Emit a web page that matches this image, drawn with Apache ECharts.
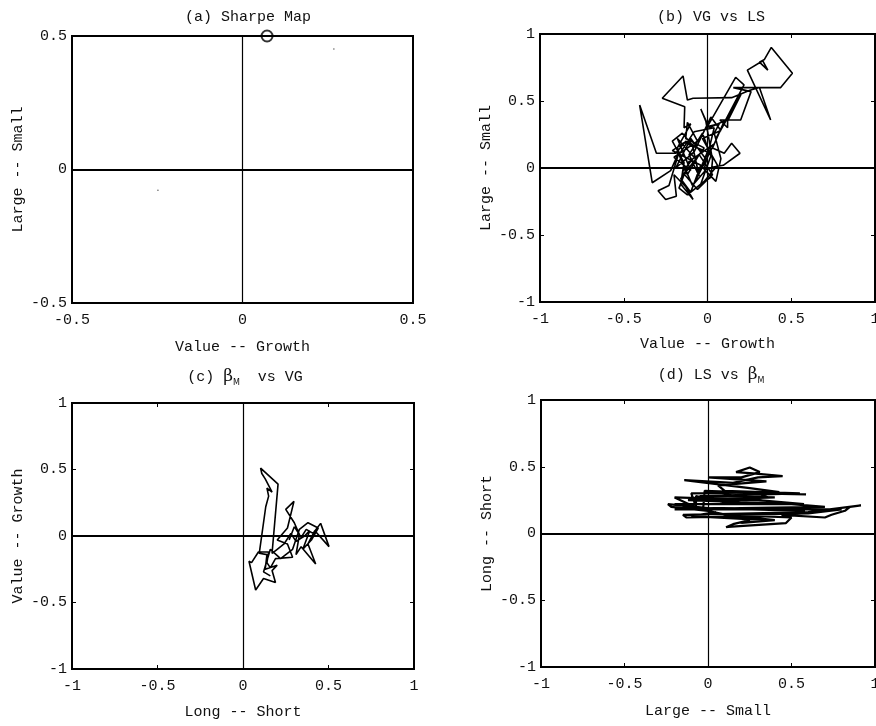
<!DOCTYPE html>
<html>
<head>
<meta charset="utf-8">
<script src="https://cdn.jsdelivr.net/npm/echarts@6/dist/echarts.min.js"></script>
<style>html,body{margin:0;padding:0;background:#fff}#c{width:876px;height:726px}</style>
</head>
<body>
<div id="c"></div>
<script>
// ---- data ----
const rangeA = [-0.5, 0.5];
const rangeB = [-1, 1];
const tickStep = 0.5;

const sharpePoint = [[0.072, 0.5]];
const specks = [[0.268, 0.451], [-0.248, -0.078]];

const vgVsLs = [
 [-0.02,0.12],[-0.13,0.2],[-0.19,0.11],[-0.305,0.11],[-0.405,0.47],[-0.33,-0.11],
 [-0.22,-0.02],[-0.17,0.12],[-0.23,-0.13],[-0.295,-0.17],[-0.25,-0.235],[-0.186,-0.21],
 [-0.2,-0.05],[-0.13,-0.14],[-0.086,-0.235],[-0.16,-0.12],[-0.14,0.04],[-0.21,0.2],
 [-0.15,0.26],[-0.09,0.17],[-0.05,-0.06],[-0.11,0.1],[-0.03,0.26],[0.02,0.09],
 [-0.04,-0.12],[0.02,-0.07],[0.03,0.06],[-0.01,0.35],[-0.04,0.44],[0.01,0.3],
 [0.1,0.35],[0.03,0.15],[0.1,0.11],[0.144,0.184],[0.194,0.11],[0.094,0.02],
 [0.0,0.0],[-0.09,-0.13],[-0.17,0.1],[-0.08,0.27],[0.04,0.3],[-0.02,-0.01],
 [0.05,-0.1],[0.08,0.07],[0.04,0.26],[0.07,0.33],[0.0,0.31],[0.168,0.677],
 [0.218,0.62],[0.05,0.22],[0.2,0.55],[0.12,0.35],[0.12,0.3],[0.074,0.358],[0.198,0.358],[0.26,0.57],
 [0.154,0.6],[0.437,0.6],[0.507,0.707],[0.381,0.9],[0.34,0.81],[0.31,0.79],
 [0.36,0.73],[0.33,0.8],[0.238,0.73],[0.377,0.358],[0.31,0.6],[0.253,0.58],
 [0.144,0.525],[-0.086,0.52],[-0.12,0.507],[-0.146,0.687],[-0.27,0.52],[-0.136,0.457],
 [-0.14,0.3],[-0.1,0.33],[-0.18,0.15],[-0.12,-0.05],[-0.05,0.1],[0.03,-0.05],
 [-0.06,-0.16],[-0.15,-0.03],[-0.08,0.08],
 [-0.18,0.22],[-0.1,-0.02],[-0.2,0.08],[-0.06,0.2],[-0.12,0.34],[-0.13,0.22],
 [-0.02,0.15],[-0.16,-0.08],[-0.1,-0.18],[-0.04,0.02],[-0.21,0.13],[-0.14,0.19],
 [0.0,0.12],[-0.07,-0.09],[0.04,0.18],[-0.11,0.05],[-0.17,-0.15],[-0.12,-0.2],
 [-0.02,-0.1],[0.06,0.02],[-0.03,0.22],[0.08,0.28],[0.02,0.38],[-0.08,0.12],
 [-0.19,0.0],[-0.1,0.22],[0.0,0.05]
];

const bmVsVg = [
 [0.27,-0.03],[0.3,0.07],[0.34,-0.01],[0.37,0.05],[0.41,0.02],[0.454,0.095],
 [0.503,-0.08],[0.42,0.04],[0.38,-0.06],[0.425,-0.21],[0.34,-0.08],[0.31,-0.14],
 [0.33,0.01],[0.3,0.1],[0.25,0.2],[0.298,0.26],[0.26,0.06],[0.2,-0.03],
 [0.26,-0.06],[0.29,-0.16],[0.19,-0.17],[0.16,-0.24],[0.14,-0.2],[0.15,-0.12],
 [0.09,-0.12],[0.05,-0.2],[0.035,-0.19],[0.074,-0.406],[0.12,-0.32],[0.19,-0.35],
 [0.17,-0.26],[0.2,-0.22],[0.13,-0.25],[0.14,-0.14],[0.095,-0.13],[0.133,0.22],
 [0.15,0.3],[0.14,0.36],[0.17,0.33],[0.13,0.43],[0.11,0.47],[0.103,0.51],
 [0.205,0.39],[0.17,-0.13],[0.2,-0.1],[0.24,-0.06],[0.28,0.02],[0.31,-0.04],
 [0.36,0.0],[0.39,0.04],[0.35,-0.1],[0.4,-0.03],[0.44,0.06],[0.38,0.1],
 [0.33,0.05],[0.29,-0.1],[0.22,-0.17],[0.16,-0.1],[0.12,-0.27],[0.16,-0.3]
];

const lsVsBm = [
 [0.0,0.17],[-0.22,0.2],[-0.24,0.22],[0.0,0.19],[0.58,0.17],[0.44,0.14],
 [0.7,0.12],[0.74,0.14],[0.82,0.17],[0.85,0.2],[0.916,0.21],[0.6,0.16],
 [0.2,0.15],[-0.15,0.14],[-0.13,0.12],[0.3,0.13],[0.5,0.12],[0.467,0.078],
 [0.12,0.05],[0.108,0.047],[0.15,0.07],[0.25,0.1],[0.0,0.17],[-0.2,0.22],
 [0.575,0.22],[0.3,0.25],[-0.2,0.27],[-0.03,0.17],[-0.02,0.32],[0.587,0.293],
 [0.3,0.3],[0.36,0.27],[0.1,0.24],[0.05,0.28],[0.13,0.29],[0.18,0.25],
 [0.12,0.23],[0.03,0.25],[-0.072,0.28],[-0.072,0.2],[-0.1,0.3],[0.427,0.31],
 [0.25,0.34],[-0.142,0.4],[0.15,0.38],[0.3,0.42],[0.447,0.43],[0.27,0.45],
 [0.168,0.46],[0.25,0.494],[0.31,0.46],[0.2,0.42],[0.0,0.42],[0.35,0.39],
 [0.06,0.36],[0.1,0.32],[0.55,0.3],[-0.05,0.28],[0.4,0.27],[-0.12,0.25],
 [0.5,0.22],[0.7,0.2],[0.2,0.19],[-0.2,0.18],[0.8,0.18],[0.6,0.15],
 [0.1,0.14],[0.4,0.1],[0.2,0.08],[0.35,0.1],[-0.1,0.13],[0.05,0.16]
];

const panelTitles = ['(a) Sharpe Map', '(b) VG vs LS', '(c) {b|β}{s|M}  vs VG', '(d) LS vs {b|β}{s|M}'];
const xNames = ['Value -- Growth', 'Value -- Growth', 'Long -- Short', 'Large -- Small'];
const yNames = ['Large -- Small', 'Large -- Small', 'Value -- Growth', 'Long -- Short'];

// ---- layout ----
const FONT = 'Liberation Mono';
const grids = [
  {left: 72, top: 36, width: 341, height: 267},
  {left: 540, top: 34, width: 335, height: 268},
  {left: 72, top: 403, width: 342, height: 266},
  {left: 541, top: 400, width: 334, height: 267}
];
const titleCenters = [[243, 5], [706, 5], [240, 362], [706, 360]];
const ranges = [rangeA, rangeB, rangeB, rangeB];
const xGaps = [37, 35, 36, 37];
const yGaps = [46, 46, 46, 46];

const txt = {color: '#111', fontFamily: FONT, fontSize: 15};
const rich = {
  b: {fontFamily: 'DejaVu Serif', fontSize: 17, color: '#111'},
  s: {fontFamily: 'DejaVu Sans', fontSize: 8, color: '#111', verticalAlign: 'bottom', padding: [12, 0, 0, 0]}
};

const xAxis = [], yAxis = [], series = [];
grids.forEach((g, i) => {
  const r = ranges[i];
  const base = {
    gridIndex: i, type: 'value', min: r[0], max: r[1], interval: tickStep,
    splitLine: {show: false},
    axisLine: {show: true, onZero: false, lineStyle: {color: '#000', width: 2}},
    axisTick: {show: true, inside: true, length: 4, lineStyle: {color: '#000', width: 1}}
  };
  xAxis.push(Object.assign({}, base, {
    position: 'bottom', name: xNames[i], nameLocation: 'middle', nameGap: xGaps[i],
    nameTextStyle: txt,
    axisLabel: Object.assign({margin: 10, hideOverlap: false}, txt)
  }));
  yAxis.push(Object.assign({}, base, {
    position: 'left', name: yNames[i], nameLocation: 'middle', nameGap: yGaps[i],
    nameTextStyle: txt,
    axisLabel: Object.assign({margin: 5}, txt)
  }));
  xAxis.push(Object.assign({}, base, {position: 'top', axisLabel: {show: false}}));
  yAxis.push(Object.assign({}, base, {position: 'right', axisLabel: {show: false}}));
});

const zeroLines = {
  symbol: 'none', silent: true, label: {show: false}, animation: false,
  data: [
    {yAxis: 0, lineStyle: {color: '#000', width: 2, type: 'solid'}},
    {xAxis: 0, lineStyle: {color: '#000', width: 1.2, type: 'solid'}}
  ]
};

const lineSeries = (i, data, w) => ({
  type: 'line', xAxisIndex: 2 * i, yAxisIndex: 2 * i, data: data,
  showSymbol: false, symbol: 'none', smooth: false, animation: false,
  lineStyle: {color: '#000', width: w}, markLine: zeroLines
});

series.push({
  type: 'scatter', xAxisIndex: 0, yAxisIndex: 0, data: sharpePoint, clip: false,
  symbol: 'circle', symbolSize: 11, animation: false,
  itemStyle: {color: 'rgba(0,0,0,0)', borderColor: '#000', borderWidth: 2},
  markLine: zeroLines
});
series.push({
  type: 'scatter', xAxisIndex: 0, yAxisIndex: 0, data: specks, symbolSize: 1.5,
  animation: false, itemStyle: {color: '#333'}
});
series.push(lineSeries(1, vgVsLs, 1.6));
series.push(lineSeries(2, bmVsVg, 1.6));
series.push(lineSeries(3, lsVsBm, 2.2));

const title = panelTitles.map((t, i) => ({
  text: t, left: titleCenters[i][0], top: titleCenters[i][1], textAlign: 'center',
  textStyle: Object.assign({}, txt, {fontWeight: 'normal', rich: rich})
}));

const chart = echarts.init(document.getElementById('c'), null, {renderer: 'canvas'});
chart.setOption({
  backgroundColor: '#fff', animation: false,
  title: title,
  grid: grids.map(g => Object.assign({show: true, borderColor: '#000', borderWidth: 2, backgroundColor: 'transparent', containLabel: false, outerBoundsMode: 'none'}, g)),
  xAxis: xAxis, yAxis: yAxis, series: series
});
</script>
</body>
</html>
